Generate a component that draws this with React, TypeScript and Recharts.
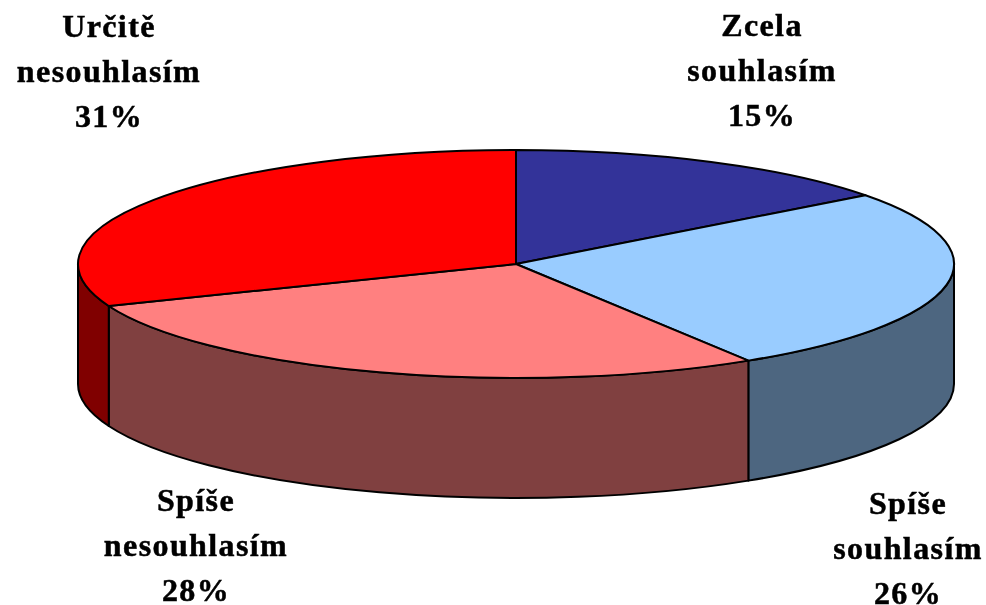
import { Cell, Pie, PieChart } from "recharts";

const categories = ["Zcela souhlasím", "Spíše souhlasím", "Spíše nesouhlasím", "Určitě nesouhlasím"];
const shares = [14.7, 26.4, 27.9, 31];
const labelLines = [
  ["Zcela", "souhlasím", "15%"],
  ["Spíše", "souhlasím", "26%"],
  ["Spíše", "nesouhlasím", "28%"],
  ["Určitě", "nesouhlasím", "31%"],
];

const TOP_COLORS = ["#333399", "#99CCFF", "#FF8080", "#FF0000"];
const WALL_COLORS = ["#1A1A4D", "#4D6680", "#804040", "#800000"];
// centre of each label block, the picture puts them by hand
const LABEL_X = [762, 908, 196, 109];
const LABEL_Y = [70, 548, 545, 71];

const CX = 516;
const CY = 264;
const RX = 438;
const RY = 114;
const DEPTH = 120;

const data = categories.map((name, i) => ({ name, value: shares[i] }));

const px = (a: number) => CX + RX * Math.cos((a * Math.PI) / 180);
const py = (a: number) => CY - RY * Math.sin((a * Math.PI) / 180);

function TopFace(props: any) {
  const { startAngle, endAngle, fill } = props;
  const large = Math.abs(startAngle - endAngle) > 180 ? 1 : 0;
  const d = `M${CX},${CY}L${px(startAngle)},${py(startAngle)}A${RX},${RY} 0 ${large} 1 ${px(endAngle)},${py(endAngle)}Z`;
  return <path d={d} fill={fill} stroke="#000" strokeWidth={2} strokeLinejoin="round" />;
}

// only the front half of the rim has a visible wall
function WallFace(props: any) {
  const { startAngle, endAngle, fill } = props;
  const s = Math.min(startAngle, 0);
  const e = Math.max(endAngle, -180);
  if (s <= e) return <g />;
  const d =
    `M${px(s)},${py(s)}A${RX},${RY} 0 0 1 ${px(e)},${py(e)}` +
    `L${px(e)},${py(e) + DEPTH}A${RX},${RY} 0 0 0 ${px(s)},${py(s) + DEPTH}Z`;
  return <path d={d} fill={fill} stroke="#000" strokeWidth={2} strokeLinejoin="round" />;
}

function SliceLabel(props: any) {
  const i = props.index;
  return (
    <text
      textAnchor="middle"
      fontFamily="'Liberation Serif', serif"
      fontWeight="bold"
      fontSize={32}
      letterSpacing={1.4}
      fill="#000"
      stroke="#000"
      strokeWidth={0.5}
    >
      {labelLines[i].map((line, k) => (
        <tspan key={k} x={LABEL_X[i]} y={LABEL_Y[i] + 10.5 + (k - 1) * 45}>
          {line}
        </tspan>
      ))}
    </text>
  );
}

export default function App() {
  return (
    <div
      style={{
        position: "absolute",
        left: 0,
        top: 0,
        width: 986,
        height: 605,
        background: "#fff",
        filter: "blur(0.5px)",
      }}
    >
      <PieChart width={986} height={605} margin={{ top: 0, right: 0, bottom: 0, left: 0 }}>
        <Pie
          data={data}
          dataKey="value"
          cx={CX}
          cy={CY}
          outerRadius={RX}
          startAngle={90}
          endAngle={-270}
          stroke="none"
          shape={WallFace}
          isAnimationActive={false}
        >
          {WALL_COLORS.map((c) => (
            <Cell key={c} fill={c} />
          ))}
        </Pie>
        <Pie
          data={data}
          dataKey="value"
          cx={CX}
          cy={CY}
          outerRadius={RX}
          startAngle={90}
          endAngle={-270}
          stroke="none"
          shape={TopFace}
          label={SliceLabel}
          labelLine={false}
          isAnimationActive={false}
        >
          {TOP_COLORS.map((c) => (
            <Cell key={c} fill={c} />
          ))}
        </Pie>
      </PieChart>
    </div>
  );
}
